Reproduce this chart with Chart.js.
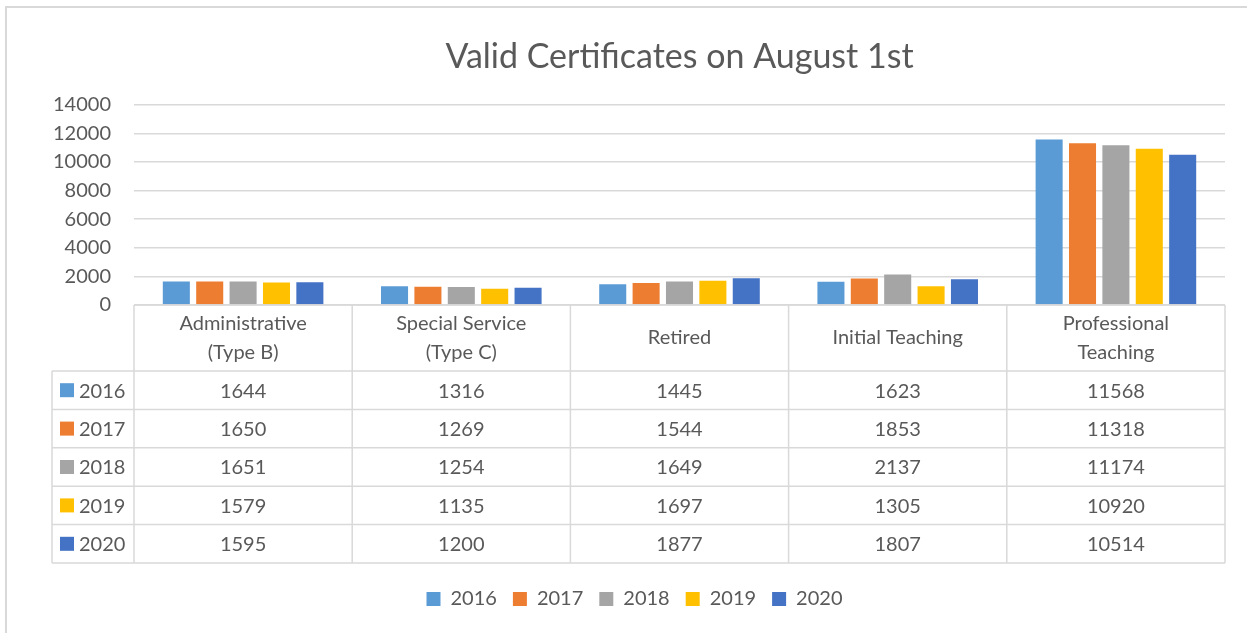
<!DOCTYPE html>
<html>
<head>
<meta charset="utf-8">
<script src="https://cdn.jsdelivr.net/npm/chart.js@4.4.1/dist/chart.umd.min.js"></script>
<style>
  body { margin: 0; background: #fff; }
  #frame { position: absolute; left: 5px; top: 6px; width: 2000px; height: 2000px;
           border-left: 2px solid #d9d9d9; border-top: 2px solid #d9d9d9; }
  #wrap { position: absolute; left: 0; top: 0; width: 1247px; height: 633px; }
</style>
</head>
<body>
<div id="frame"></div>
<div id="wrap"><canvas id="chart" width="1247" height="633"></canvas></div>
<script>
'use strict';

const categories = [
    ['Administrative', '(Type B)'],
    ['Special Service', '(Type C)'],
    'Retired',
    'Initial Teaching',
    ['Professional', 'Teaching'],
];
const years = ['2016', '2017', '2018', '2019', '2020'];
const colors = ['#5b9bd5', '#ed7d31', '#a5a5a5', '#ffc000', '#4472c4'];

const y2016 = [1644, 1316, 1445, 1623, 11568];
const y2017 = [1650, 1269, 1544, 1853, 11318];
const y2018 = [1651, 1254, 1649, 2137, 11174];
const y2019 = [1579, 1135, 1697, 1305, 10920];
const y2020 = [1595, 1200, 1877, 1807, 10514];
const series = [y2016, y2017, y2018, y2019, y2020];

const FONT = 'Lato, "Open Sans", sans-serif';
const TEXT = '#595959';
const GRID = '#d9d9d9';
const headerH = 66;
const rowH = 38.4;
const tableLeft = 52;

// data table drawn under the plot, columns follow the x scale
const tablePlugin = {
    id: 'dataTable',
    afterDraw(chart){
        const c = chart.ctx;
        const x = chart.scales.x;
        const area = chart.chartArea;
        const top = area.bottom;
        const colW = (x.right - x.left) / categories.length;
        const bottom = top + headerH + rowH * years.length;

        c.save();
        c.strokeStyle = GRID;
        c.lineWidth = 1.5;
        c.beginPath();
        c.moveTo(x.left, top); c.lineTo(x.right, top);
        for(let r = 0; r <= years.length; r++){
            const yy = top + headerH + r * rowH;
            c.moveTo(tableLeft, yy); c.lineTo(x.right, yy);
        }
        for(let i = 0; i <= categories.length; i++){
            const xx = x.left + i * colW;
            c.moveTo(xx, top); c.lineTo(xx, bottom);
        }
        c.moveTo(tableLeft, top + headerH); c.lineTo(tableLeft, bottom);
        c.stroke();

        c.fillStyle = TEXT;
        c.font = '20px ' + FONT;
        c.textAlign = 'center';
        c.textBaseline = 'middle';
        categories.forEach((label, i) => {
            const cx = x.getPixelForValue(i);
            const lines = Array.isArray(label) ? label : [label];
            const mid = top + headerH / 2;
            lines.forEach((ln, k) => {
                c.fillText(ln, cx, mid + (k - (lines.length - 1) / 2) * 29);
            });
        });

        years.forEach((yr, r) => {
            const cy = top + headerH + r * rowH + rowH / 2;
            c.fillStyle = colors[r];
            c.fillRect(tableLeft + 8, cy - 7, 14, 14);
            c.fillStyle = TEXT;
            c.textAlign = 'left';
            c.fillText(yr, tableLeft + 27, cy + 1);
            c.textAlign = 'center';
            series[r].forEach((v, i) => {
                c.fillText(String(v), x.getPixelForValue(i), cy + 1);
            });
        });
        c.restore();
    }
};

const ctx = document.getElementById('chart');

const wykres = new Chart(ctx, {
    type: 'bar',
    data: {
        labels: categories,
        datasets: years.map((yr, i) => ({
            label: yr,
            data: series[i],
            backgroundColor: colors[i],
            borderWidth: 0,
            categoryPercentage: 0.765,
            barPercentage: 0.81,
        })),
    },
    options: {
        responsive: false,
        animation: false,
        layout: { padding: { left: 44, right: 22, top: 0, bottom: 14 } },
        plugins: {
            title: {
                display: true,
                fullSize: false,
                text: 'Valid Certificates on August 1st',
                color: TEXT,
                font: { family: FONT, size: 34, weight: 'normal' },
                padding: { top: 37, bottom: 27 },
            },
            legend: {
                position: 'bottom',
                labels: {
                    color: TEXT,
                    font: { family: FONT, size: 20 },
                    boxWidth: 14,
                    boxHeight: 14,
                    padding: 16,
                },
            },
            tooltip: { enabled: false },
        },
        scales: {
            x: {
                grid: { display: false },
                border: { display: false },
                ticks: { display: false },
                afterFit(s){ s.height = headerH + rowH * years.length + 10; },
            },
            y: {
                min: 0,
                max: 14000,
                grid: { color: GRID, lineWidth: 1.5, drawTicks: false },
                border: { display: false },
                ticks: {
                    stepSize: 2000,
                    color: TEXT,
                    padding: 23,
                    font: { family: FONT, size: 20 },
                    callback: v => String(v),
                },
                afterFit(s){ s.width = 90; },
            },
        },
    },
    plugins: [tablePlugin],
});
</script>
</body>
</html>
